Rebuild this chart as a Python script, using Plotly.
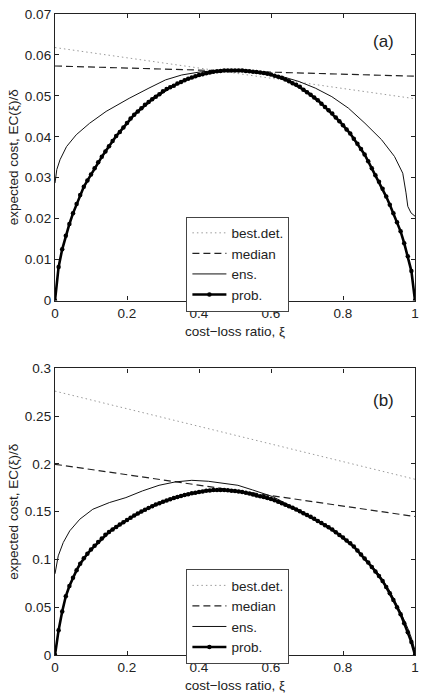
import plotly.graph_objects as go

# ---------------- data ----------------
xi_grid = [i / 100 for i in range(101)]

# panel (a)
prob_a = [0.0, 0.0082, 0.0125, 0.0158, 0.0187, 0.0213, 0.0236, 0.0258, 0.0278, 0.0293,
          0.0308, 0.0323, 0.0338, 0.0351, 0.0364, 0.0377, 0.0390, 0.0402, 0.0412, 0.0423,
          0.0434, 0.0445, 0.0454, 0.0462, 0.0470, 0.0478, 0.0485, 0.0492, 0.0498, 0.0504,
          0.0511, 0.0517, 0.0521, 0.0525, 0.0530, 0.0534, 0.0538, 0.0542, 0.0545, 0.0548,
          0.0551, 0.0553, 0.0555, 0.0557, 0.0559, 0.0560, 0.0561, 0.0562, 0.0562, 0.0562,
          0.0562, 0.0562, 0.0562, 0.0561, 0.0560, 0.0559, 0.0558, 0.0557, 0.0556, 0.0554,
          0.0552, 0.0549, 0.0547, 0.0544, 0.0540, 0.0536, 0.0531, 0.0527, 0.0522, 0.0515,
          0.0509, 0.0503, 0.0496, 0.0489, 0.0481, 0.0473, 0.0465, 0.0457, 0.0447, 0.0438,
          0.0428, 0.0418, 0.0408, 0.0395, 0.0383, 0.0370, 0.0357, 0.0340, 0.0323, 0.0306,
          0.0290, 0.0273, 0.0254, 0.0234, 0.0213, 0.0191, 0.0169, 0.0140, 0.0108, 0.0072,
          0.0]
ens_x_a = [0, 0.005, 0.014, 0.032, 0.059, 0.096, 0.142, 0.206, 0.261, 0.307, 0.352, 0.407,
           0.46, 0.5, 0.55, 0.6, 0.632, 0.678, 0.723, 0.769, 0.815, 0.861, 0.907, 0.943,
           0.966, 0.975, 0.98, 0.989, 1.0]
ens_a = [0.0287, 0.0320, 0.0344, 0.0376, 0.0405, 0.0433, 0.0462, 0.0494, 0.0519, 0.0539,
         0.0551, 0.0559, 0.0562, 0.0562, 0.0558, 0.0552, 0.0547, 0.0535, 0.0519, 0.0498,
         0.0470, 0.0433, 0.0393, 0.0352, 0.0311, 0.0263, 0.0230, 0.0214, 0.0206]
line_x = [0, 0.5, 1]
best_a = [0.0618, 0.0556, 0.0493]
median_a = [0.0573, 0.0561, 0.0548]

# panel (b)
prob_b = [0.0, 0.0260, 0.0455, 0.0615, 0.0722, 0.0808, 0.0888, 0.0955, 0.1012, 0.1060,
          0.1104, 0.1143, 0.1182, 0.1220, 0.1258, 0.1288, 0.1315, 0.1341, 0.1366, 0.1391,
          0.1414, 0.1437, 0.1460, 0.1482, 0.1502, 0.1521, 0.1540, 0.1558, 0.1576, 0.1590,
          0.1604, 0.1617, 0.1630, 0.1643, 0.1654, 0.1664, 0.1674, 0.1684, 0.1693, 0.1700,
          0.1707, 0.1713, 0.1719, 0.1723, 0.1727, 0.1728, 0.1728, 0.1727, 0.1724, 0.1721,
          0.1718, 0.1713, 0.1706, 0.1699, 0.1690, 0.1680, 0.1671, 0.1662, 0.1653, 0.1644,
          0.1634, 0.1621, 0.1605, 0.1590, 0.1574, 0.1558, 0.1542, 0.1523, 0.1504, 0.1485,
          0.1466, 0.1447, 0.1426, 0.1404, 0.1382, 0.1359, 0.1337, 0.1315, 0.1286, 0.1257,
          0.1229, 0.1200, 0.1171, 0.1135, 0.1093, 0.1052, 0.1010, 0.0969, 0.0922, 0.0875,
          0.0828, 0.0775, 0.0711, 0.0646, 0.0575, 0.0500, 0.0426, 0.0333, 0.0237, 0.0135,
          0.0]
ens_x_b = [0, 0.009, 0.023, 0.041, 0.069, 0.105, 0.151, 0.197, 0.243, 0.289, 0.334, 0.38,
           0.426, 0.471, 0.508, 0.549, 0.604, 0.65, 0.7, 0.75, 0.8, 0.85, 0.9, 0.93, 0.96,
           0.98, 0.99, 1.0]
ens_b = [0.085, 0.1038, 0.1178, 0.1300, 0.1422, 0.1526, 0.1596, 0.1648, 0.1718, 0.1777,
         0.1812, 0.1829, 0.1819, 0.1798, 0.1777, 0.1728, 0.1659, 0.1570, 0.1475, 0.1365,
         0.1240, 0.1060, 0.0845, 0.0670, 0.0450, 0.0280, 0.0180, 0.0050]
best_b = [0.2763, 0.2302, 0.1840]
median_b = [0.1997, 0.1724, 0.1450]

x_ticks = [0, 0.2, 0.4, 0.6, 0.8, 1]
x_ticklabels = ["0", "0.2", "0.4", "0.6", "0.8", "1"]
y_ticks_a = [0, 0.01, 0.02, 0.03, 0.04, 0.05, 0.06, 0.07]
y_ticklabels_a = ["0", "0.01", "0.02", "0.03", "0.04", "0.05", "0.06", "0.07"]
y_ticks_b = [0, 0.05, 0.1, 0.15, 0.2, 0.25, 0.3]
y_ticklabels_b = ["0", "0.05", "0.1", "0.15", "0.2", "0.25", "0.3"]

series_names = ["best.det.", "median", "ens.", "prob."]
panel_labels = ["(a)", "(b)"]
x_title = "cost\u2212loss ratio, \u03be"
y_title = "expected cost, EC(\u03be)/\u03b4"

# ---------------- figure ----------------
FONT = "Liberation Sans, Arial, Helvetica, sans-serif"
fig = go.Figure()


def add_panel(xa, ya, leg, best, median, ensx, ens, prob):
    fig.add_trace(go.Scatter(x=line_x, y=best, mode="lines", name=series_names[0],
                             line=dict(color="#9a9a9a", width=1, dash="1.5px,3px"),
                             xaxis=xa, yaxis=ya, legend=leg))
    fig.add_trace(go.Scatter(x=line_x, y=median, mode="lines", name=series_names[1],
                             line=dict(color="#222222", width=1.2, dash="7px,4px"),
                             xaxis=xa, yaxis=ya, legend=leg))
    fig.add_trace(go.Scatter(x=ensx, y=ens, mode="lines", name=series_names[2],
                             line=dict(color="#111111", width=1),
                             xaxis=xa, yaxis=ya, legend=leg))
    fig.add_trace(go.Scatter(x=xi_grid, y=prob, mode="lines+markers", name=series_names[3],
                             line=dict(color="#000000", width=2.6),
                             marker=dict(color="#000000", size=4.5),
                             xaxis=xa, yaxis=ya, legend=leg))


add_panel("x", "y", "legend", best_a, median_a, ens_x_a, ens_a, prob_a)
add_panel("x2", "y2", "legend2", best_b, median_b, ens_x_b, ens_b, prob_b)

axis_common = dict(showline=True, linecolor="#222222", linewidth=1.3, mirror="ticks",
                   ticks="inside", ticklen=4, tickcolor="#222222", tickwidth=1,
                   showgrid=False, zeroline=False,
                   tickfont=dict(family=FONT, size=13.5, color="#222222"))

title_font = dict(family=FONT, size=13.5, color="#222222")

fig.update_layout(
    width=425, height=697,
    margin=dict(l=55, r=6, t=14, b=41),
    paper_bgcolor="white", plot_bgcolor="white",
    font=dict(family=FONT, size=13, color="#222222"),
    xaxis=dict(domain=[0, 1], range=[0, 1], anchor="y", tickvals=x_ticks,
               ticktext=x_ticklabels,
               title=dict(text=x_title, font=title_font, standoff=6), **axis_common),
    yaxis=dict(domain=[0.553, 1], range=[0, 0.07], anchor="x", tickvals=y_ticks_a,
               ticktext=y_ticklabels_a,
               title=dict(text=y_title, font=title_font, standoff=3), **axis_common),
    xaxis2=dict(domain=[0, 1], range=[0, 1], anchor="y2", tickvals=x_ticks,
                ticktext=x_ticklabels,
                title=dict(text=x_title, font=title_font, standoff=6), **axis_common),
    yaxis2=dict(domain=[0, 0.447], range=[0, 0.3], anchor="x2", tickvals=y_ticks_b,
                ticktext=y_ticklabels_b,
                title=dict(text=y_title, font=title_font, standoff=3), **axis_common),
    legend=dict(x=0.365, y=0.684, xanchor="left", yanchor="top",
                bgcolor="white", bordercolor="#444444", borderwidth=1,
                font=dict(family=FONT, size=13.5, color="#222222"),
                tracegroupgap=0, itemwidth=34),
    legend2=dict(x=0.365, y=0.134, xanchor="left", yanchor="top",
                 bgcolor="white", bordercolor="#444444", borderwidth=1,
                 font=dict(family=FONT, size=13.5, color="#222222"),
                 tracegroupgap=0, itemwidth=34),
    showlegend=True,
)

fig.add_annotation(text=panel_labels[0], xref="x", yref="y", x=0.912, y=0.0632,
                   showarrow=False, font=dict(family=FONT, size=17, color="#222222"))
fig.add_annotation(text=panel_labels[1], xref="x2", yref="y2", x=0.912, y=0.2665,
                   showarrow=False, font=dict(family=FONT, size=17, color="#222222"))

fig.write_html("out.html")
